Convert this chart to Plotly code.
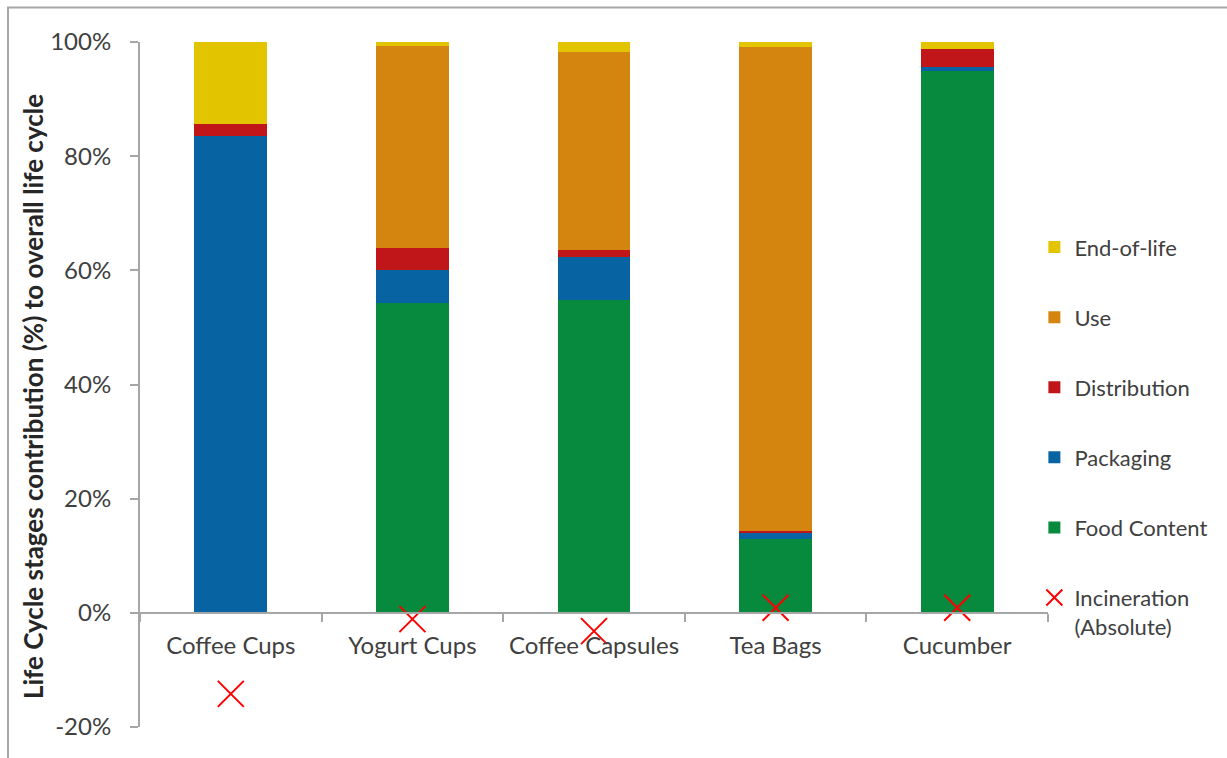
import plotly.graph_objects as go

categories = ["Coffee Cups", "Yogurt Cups", "Coffee Capsules", "Tea Bags", "Cucumber"]
food_content = [0.0, 54.3, 54.8, 13.0, 94.9]
packaging = [83.6, 5.7, 7.6, 0.9, 0.7]
distribution = [2.0, 4.0, 1.1, 0.4, 3.1]
use = [0.0, 35.3, 34.8, 84.9, 0.0]
end_of_life = [14.4, 0.7, 1.7, 0.8, 1.3]
incineration = [-14.2, -1.1, -3.2, 0.9, 0.9]

y_ticks = [-20, 0, 20, 40, 60, 80, 100]
y_tick_labels = ["-20%", "0%", "20%", "40%", "60%", "80%", "100%"]

FONT = "Lato"
TXT = "#404040"
AX = "#a6a6a6"

fig = go.Figure()

series = [
    ("Food Content", food_content, "#078a3e", "g5", 5),
    ("Packaging", packaging, "#0763a1", "g4", 4),
    ("Distribution", distribution, "#c0161a", "g3", 3),
    ("Use", use, "#d3850f", "g2", 2),
    ("End-of-life", end_of_life, "#e3c400", "g1", 1),
]
for name, vals, col, grp, rank in series:
    fig.add_trace(go.Bar(x=categories, y=vals, name=name, legendgroup=grp,
                         legendrank=rank,
                         marker=dict(color=col, line=dict(width=0))))

fig.add_trace(go.Scatter(
    x=categories, y=incineration, mode="markers",
    name="Incineration<br>(Absolute)", legendgroup="g6", legendrank=6,
    marker=dict(symbol="x-thin", size=26, color="#ff0000",
                line=dict(color="#ff0000", width=2)),
))

fig.update_layout(
    width=1227, height=758,
    margin=dict(l=140, r=179, t=42, b=31),
    paper_bgcolor="white", plot_bgcolor="white",
    barmode="stack", bargap=0.6,
    font=dict(family=FONT, size=22, color=TXT),
    showlegend=True,
    legend=dict(
        x=0.985, xanchor="left", y=0.731, yanchor="top",
        traceorder="grouped", tracegroupgap=38.5,
        valign="top", font=dict(family=FONT, size=22, color=TXT),
        bgcolor="rgba(0,0,0,0)",
    ),
    xaxis=dict(
        type="category", categoryorder="array", categoryarray=categories,
        anchor="free", position=20 / 120,
        showline=True, linecolor=AX, linewidth=2,
        ticks="outside", tickson="boundaries", ticklen=8, tickcolor=AX, tickwidth=2,
        ticklabelstandoff=11,
        showgrid=False, zeroline=False,
        tickfont=dict(family=FONT, size=24, color=TXT),
    ),
    yaxis=dict(
        range=[-20, 100], tickvals=y_ticks, ticktext=y_tick_labels,
        showline=True, linecolor=AX, linewidth=2,
        ticks="outside", ticklen=8, tickcolor=AX, tickwidth=2,
        ticklabelstandoff=14,
        showgrid=False, zeroline=False,
        tickfont=dict(family=FONT, size=24, color=TXT),
    ),
    annotations=[dict(
        text="<b>Life Cycle stages contribution (%) to overall life cycle</b>",
        xref="paper", yref="paper", x=(33 - 140) / 908, y=(727 - 397) / 685,
        textangle=-90, showarrow=False, xanchor="center", yanchor="middle",
        font=dict(family=FONT, size=26, color="#262626"),
    )],
    shapes=[dict(
        type="rect", xref="paper", yref="paper", layer="below",
        x0=(8 - 140) / 908, x1=(1260 - 140) / 908,
        y0=(727 - 7.5) / 685, y1=(727 - 790) / 685,
        line=dict(color="#a6a6a6", width=2), fillcolor="rgba(0,0,0,0)",
    )],
)

fig.write_html("out.html")
